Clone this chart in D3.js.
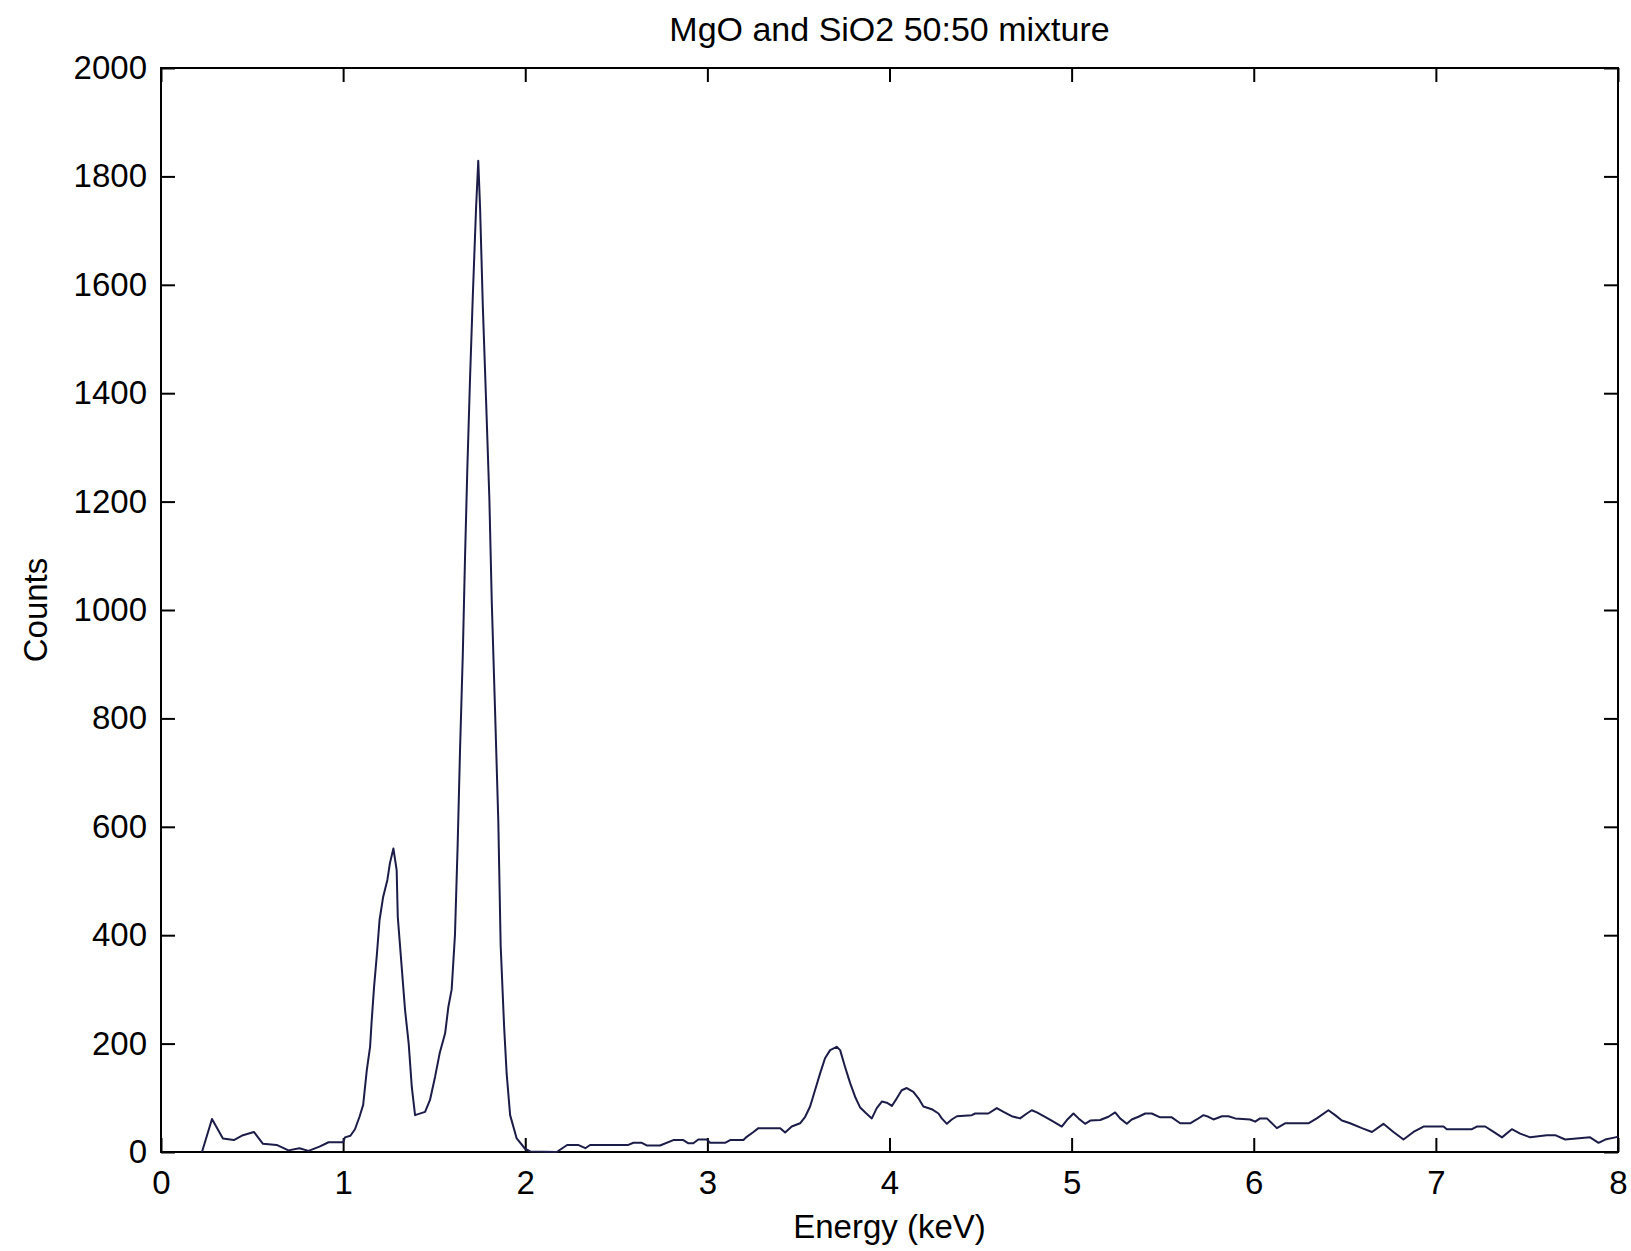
<!DOCTYPE html>
<html>
<head>
<meta charset="utf-8">
<script src="https://cdn.jsdelivr.net/npm/d3@7"></script>
<style>
  html, body { margin: 0; padding: 0; background: #fff; }
  svg { display: block; }
  .axis text { font-family: "Liberation Sans", Arial, sans-serif; font-size: 33px; fill: #000; }
  .axis line { stroke: #000; stroke-width: 2; }
  .axis path { display: none; }
  .lbl { font-family: "Liberation Sans", Arial, sans-serif; font-size: 33px; fill: #000; }
</style>
</head>
<body>
<svg id="chart" width="1631" height="1251"></svg>
<script>
// EDS spectrum: energy (keV) and counts
const energy = [
  0.225, 0.280, 0.340, 0.400, 0.450, 0.510, 0.560, 0.635, 0.700, 0.760,
  0.810, 0.870, 0.920, 1.000, 1.010, 1.040, 1.065, 1.090, 1.110, 1.130,
  1.148, 1.157, 1.170, 1.185, 1.200, 1.220, 1.243, 1.257, 1.276, 1.294,
  1.300, 1.320, 1.340, 1.360, 1.377, 1.395, 1.450, 1.477, 1.505, 1.530,
  1.560, 1.578, 1.596, 1.614, 1.629, 1.642, 1.657, 1.669, 1.682, 1.697,
  1.712, 1.730, 1.742, 1.752, 1.767, 1.785, 1.803, 1.816, 1.834, 1.852,
  1.865, 1.884, 1.898, 1.917, 1.953, 1.999, 2.027, 2.173, 2.230, 2.290,
  2.330, 2.356, 2.566, 2.594, 2.640, 2.667, 2.740, 2.813, 2.868, 2.896,
  2.923, 2.950, 2.997, 3.015, 3.097, 3.125, 3.198, 3.216, 3.253, 3.280,
  3.400, 3.427, 3.463, 3.509, 3.537, 3.564, 3.591, 3.619, 3.646, 3.674,
  3.710, 3.729, 3.756, 3.784, 3.811, 3.839, 3.870, 3.903, 3.930, 3.958,
  3.985, 4.013, 4.040, 4.067, 4.095, 4.131, 4.159, 4.186, 4.232, 4.269,
  4.287, 4.315, 4.342, 4.370, 4.452, 4.470, 4.543, 4.589, 4.626, 4.671,
  4.717, 4.754, 4.781, 4.809, 4.854, 4.900, 4.946, 4.974, 5.010, 5.038,
  5.074, 5.102, 5.157, 5.202, 5.239, 5.266, 5.303, 5.330, 5.367, 5.404,
  5.440, 5.486, 5.550, 5.596, 5.651, 5.687, 5.724, 5.751, 5.779, 5.825,
  5.861, 5.898, 5.980, 6.008, 6.035, 6.072, 6.127, 6.172, 6.300, 6.346,
  6.410, 6.447, 6.484, 6.529, 6.594, 6.649, 6.712, 6.767, 6.822, 6.877,
  6.932, 7.042, 7.060, 7.198, 7.225, 7.271, 7.317, 7.363, 7.417, 7.463,
  7.518, 7.609, 7.655, 7.710, 7.847, 7.893, 7.930, 7.985, 8.000
];
const counts = [
  0, 61, 25, 22, 31, 37, 15, 13, 3, 7,
  2, 10, 18, 18, 27, 30, 42, 65, 87, 151,
  194, 243, 305, 363, 428, 471, 502, 533, 560, 520,
  434, 348, 262, 200, 120, 68, 74, 96, 139, 182,
  219, 268, 300, 400, 568, 743, 917, 1092, 1261, 1429,
  1579, 1742, 1829, 1742, 1561, 1386, 1205, 1017, 817, 611,
  381, 231, 144, 68, 25, 6, 1, 0, 13, 13,
  7, 13, 13, 17, 17, 12, 12, 22, 22, 16,
  16, 23, 23, 17, 17, 22, 22, 28, 37, 44,
  44, 36, 47, 53, 65, 84, 114, 145, 173, 188,
  194, 188, 157, 127, 102, 82, 72, 62, 81, 93,
  91, 85, 99, 114, 118, 111, 99, 84, 79, 71,
  62, 52, 60, 66, 68, 71, 71, 81, 74, 66,
  62, 71, 77, 73, 65, 56, 47, 59, 71, 62,
  52, 58, 59, 65, 73, 62, 52, 60, 65, 71,
  71, 64, 64, 53, 53, 60, 68, 65, 60, 66,
  66, 62, 60, 56, 62, 62, 44, 53, 53, 62,
  77, 68, 58, 53, 44, 37, 52, 37, 23, 37,
  47, 47, 42, 42, 47, 47, 37, 27, 42, 34,
  27, 31, 31, 23, 27, 17, 23, 27, 28
];

const xTicks = [0, 1, 2, 3, 4, 5, 6, 7, 8];
const yTicks = [0, 200, 400, 600, 800, 1000, 1200, 1400, 1600, 1800, 2000];
const titleText = "MgO and SiO2 50:50 mixture";
const xLabel = "Energy (keV)";
const yLabel = "Counts";

const margins = { top: 68, right: 13, bottom: 99, left: 161 };
const svg = d3.select("#chart");
const W = +svg.attr("width"), H = +svg.attr("height");
const w = W - margins.left - margins.right;
const h = H - margins.top - margins.bottom;

const g = svg.append("g").attr("transform", `translate(${margins.left},${margins.top})`);

const x = d3.scaleLinear().domain([0, 8]).range([0, w]);
const y = d3.scaleLinear().domain([0, 2000]).range([h, 0]);

const tick = 14;

// bottom + left with labels, top + right ticks only (ticks point inward)
g.append("g").attr("class", "axis").attr("transform", `translate(0,${h})`)
  .call(d3.axisBottom(x).tickValues(xTicks).tickFormat(d3.format("d"))
    .tickSizeInner(-tick).tickSizeOuter(0).tickPadding(19));
g.append("g").attr("class", "axis")
  .call(d3.axisTop(x).tickValues(xTicks).tickFormat("")
    .tickSizeInner(-tick).tickSizeOuter(0));
g.append("g").attr("class", "axis")
  .call(d3.axisLeft(y).tickValues(yTicks).tickFormat(d3.format("d"))
    .tickSizeInner(-tick).tickSizeOuter(0).tickPadding(14));
g.append("g").attr("class", "axis").attr("transform", `translate(${w},0)`)
  .call(d3.axisRight(y).tickValues(yTicks).tickFormat("")
    .tickSizeInner(-tick).tickSizeOuter(0));

// box
g.append("rect")
  .attr("x", 0).attr("y", 0).attr("width", w).attr("height", h)
  .attr("fill", "none").attr("stroke", "#000").attr("stroke-width", 2);

// spectrum
const pts = energy.map((e, i) => ({ e, c: counts[i] }));
const line = d3.line().x(d => x(d.e)).y(d => y(d.c));
g.append("path")
  .datum(pts)
  .attr("fill", "none")
  .attr("stroke", "#1c1c48")
  .attr("stroke-width", 2)
  .attr("stroke-linejoin", "round")
  .attr("d", line);

// title and axis labels
svg.append("text").attr("class", "lbl")
  .attr("x", margins.left + w / 2).attr("y", 41)
  .attr("text-anchor", "middle").style("font-size", "34px")
  .text(titleText);
svg.append("text").attr("class", "lbl")
  .attr("x", margins.left + w / 2).attr("y", 1238)
  .attr("text-anchor", "middle")
  .text(xLabel);
svg.append("text").attr("class", "lbl")
  .attr("transform", `translate(47,${margins.top + h / 2}) rotate(-90)`)
  .attr("text-anchor", "middle")
  .text(yLabel);
</script>
</body>
</html>
